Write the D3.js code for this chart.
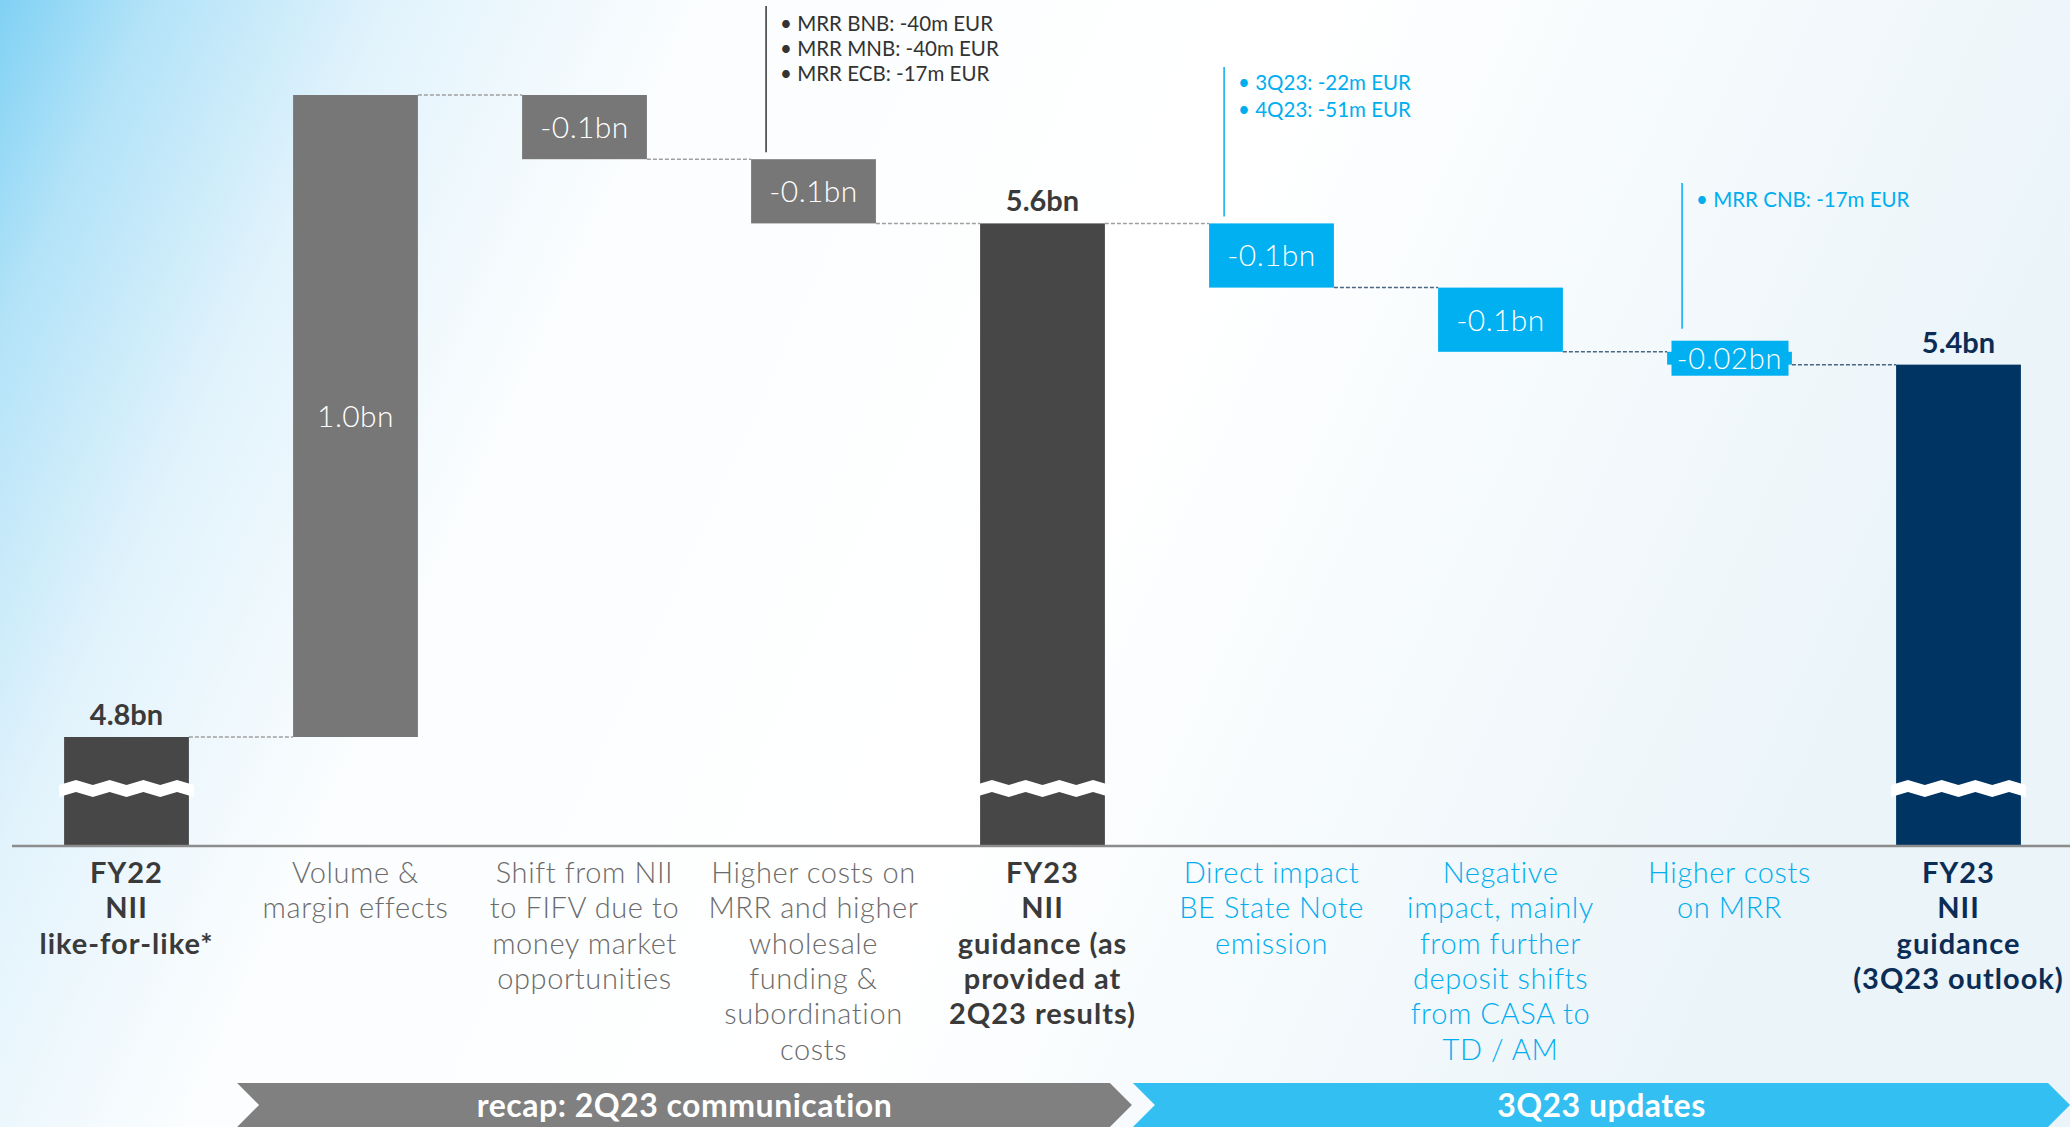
<!DOCTYPE html>
<html>
<head>
<meta charset="utf-8">
<script src="https://cdnjs.cloudflare.com/ajax/libs/d3/7.8.5/d3.min.js"></script>
<style>
  html, body { margin: 0; padding: 0; overflow: hidden; }
  svg { display: block; font-family: Lato, "Open Sans", sans-serif; }
</style>
</head>
<body>
<div id="chart"></div>
<script>

// ---- data ----
var categories = ["fy22", "volume", "shift", "mrr_wholesale", "fy23", "state_note", "deposit_shift", "mrr_cnb", "fy23_outlook"];
var kinds = ["total", "delta", "delta", "delta", "total", "delta", "delta", "delta", "total"];
var values = [4.8, 1.0, -0.1, -0.1, 5.6, -0.1, -0.1, -0.02, 5.38];
var valueLabels = ["4.8bn", "1.0bn", "-0.1bn", "-0.1bn", "5.6bn", "-0.1bn", "-0.1bn", "-0.02bn", "5.4bn"];
var categoryLines = [
  ["FY22", "NII", "like-for-like*"],
  ["Volume &", "margin effects"],
  ["Shift from NII", "to FIFV due to", "money market", "opportunities"],
  ["Higher costs on", "MRR and higher", "wholesale", "funding &", "subordination", "costs"],
  ["FY23", "NII", "guidance (as", "provided at", "2Q23 results)"],
  ["Direct impact", "BE State Note", "emission"],
  ["Negative", "impact, mainly", "from further", "deposit shifts", "from CASA to", "TD / AM"],
  ["Higher costs", "on MRR"],
  ["FY23", "NII", "guidance", "(3Q23 outlook)"]
];
var groups = ["base", "recap", "recap", "recap", "recap", "update", "update", "update", "update"];
var notes = [
  { cat: "mrr_wholesale", lines: ["MRR BNB: -40m EUR", "MRR MNB: -40m EUR", "MRR ECB: -17m EUR"] },
  { cat: "state_note", lines: ["3Q23: -22m EUR", "4Q23: -51m EUR"] },
  { cat: "mrr_cnb", lines: ["MRR CNB: -17m EUR"] }
];
var bannerLabels = ["recap: 2Q23 communication", "3Q23 updates"];

// ---- layout ----
var W = 2070, H = 1127;
var baseY = 845;

var svg = d3.select("#chart").append("svg")
  .attr("width", W)
  .attr("height", H);

var defs = svg.append("defs");
var bg = defs.append("linearGradient").attr("id", "bg")
  .attr("x1", 0).attr("y1", 0).attr("x2", 1).attr("y2", 0.25);
bg.append("stop").attr("offset", "0%").attr("stop-color", "#80d1f4");
bg.append("stop").attr("offset", "7%").attr("stop-color", "#b3e3f8");
bg.append("stop").attr("offset", "18%").attr("stop-color", "#e2f3fc");
bg.append("stop").attr("offset", "32%").attr("stop-color", "#fbfdfe");
bg.append("stop").attr("offset", "60%").attr("stop-color", "#ffffff");
bg.append("stop").attr("offset", "100%").attr("stop-color", "#eaf4f9");
svg.append("rect").attr("width", W).attr("height", H).attr("fill", "url(#bg)");

var x = d3.scaleBand()
  .domain(categories)
  .range([12, 2073])
  .paddingInner(0.455)
  .paddingOuter(0.2275);

var y = d3.scaleLinear()
  .domain([4.8, 5.8])
  .range([737, 95]);

// running totals for the waterfall
var rows = [];
var run = 0;
categories.forEach(function(c, i) {
  var start, end;
  if (kinds[i] === "total") { start = null; end = values[i]; }
  else { start = run; end = run + values[i]; }
  run = end;
  rows.push({ cat: c, kind: kinds[i], group: groups[i], start: start, end: end, label: valueLabels[i], i: i });
});

function barColor(d) {
  if (d.kind === "total") return d.group === "update" ? "#003462" : "#474747";
  return d.group === "update" ? "#00b0f0" : "#777777";
}
function textColor(d) {
  if (d.kind === "total") return d.group === "update" ? "#0b2d55" : "#3a3a3a";
  return d.group === "update" ? "#00aeef" : "#6b6b6b";
}

// connectors
var conn = svg.append("g");
rows.slice(0, -1).forEach(function(d, i) {
  var next = rows[i + 1];
  conn.append("line")
    .attr("x1", x(d.cat) + x.bandwidth())
    .attr("x2", x(next.cat))
    .attr("y1", y(d.end))
    .attr("y2", y(d.end))
    .attr("stroke", i >= 5 ? "#4b6680" : "#a0a0a0")
    .attr("stroke-width", 1.5)
    .attr("stroke-dasharray", "4,2");
});

// bars
svg.append("g").selectAll("rect")
  .data(rows)
  .join("rect")
  .attr("x", function(d) { return x(d.cat); })
  .attr("width", x.bandwidth())
  .attr("y", function(d) { return d.kind === "total" ? y(d.end) : y(Math.max(d.start, d.end)); })
  .attr("height", function(d) {
    if (d.kind === "total") return baseY - y(d.end);
    return Math.abs(y(d.start) - y(d.end));
  })
  .attr("fill", barColor);

// axis break marks on the total bars
var breakY = 791;
rows.filter(function(d) { return d.kind === "total"; }).forEach(function(d) {
  var x0 = x(d.cat) - 5, x1 = x(d.cat) + x.bandwidth() + 5;
  var n = 8, amp = 5, top = [], bot = [];
  for (var k = 0; k <= n; k++) {
    var px = x0 + (x1 - x0) * k / n;
    var off = (k === 0 || k === n) ? 0 : (k % 2 ? -amp : 0);
    top.push([px, breakY - 6 + off]);
    bot.push([px, breakY + 6 + off]);
  }
  var pts = top.concat(bot.reverse());
  svg.append("path")
    .attr("d", d3.line()(pts) + "Z")
    .attr("fill", "#ffffff");
});

// axis line
svg.append("line")
  .attr("x1", 12).attr("x2", W)
  .attr("y1", baseY + 1).attr("y2", baseY + 1)
  .attr("stroke", "#8c8c8c")
  .attr("stroke-width", 2.5);

// value labels
var vl = svg.append("g");
rows.forEach(function(d) {
  var cx = x(d.cat) + x.bandwidth() / 2;
  if (d.kind === "total") {
    vl.append("text")
      .attr("x", cx).attr("y", y(d.end) - 12)
      .attr("text-anchor", "middle")
      .attr("font-size", 29).attr("font-weight", 700)
      .attr("fill", d.group === "update" ? "#0b2d55" : "#3a3a3a")
      .text(d.label);
  } else {
    var cy = (y(d.start) + y(d.end)) / 2;
    var small = Math.abs(y(d.start) - y(d.end)) < 30;
    if (small) {
      vl.append("rect")
        .attr("x", cx - 58).attr("y", cy - 17.5)
        .attr("width", 117).attr("height", 35)
        .attr("fill", "#00b0f0");
    }
    vl.append("text")
      .attr("x", cx).attr("y", cy)
      .attr("dy", "0.36em")
      .attr("text-anchor", "middle")
      .attr("font-size", small ? 29 : 30).attr("font-weight", 300)
      .attr("letter-spacing", small ? 0.8 : 0.4)
      .attr("fill", "#ffffff")
      .text(d.label);
  }
});

// category labels
var cl = svg.append("g");
rows.forEach(function(d, i) {
  var t = cl.append("text")
    .attr("x", x(d.cat) + x.bandwidth() / 2)
    .attr("y", 883)
    .attr("text-anchor", "middle")
    .attr("font-size", 29)
    .attr("letter-spacing", d.kind === "total" ? 1 : 0.6)
    .attr("font-weight", d.kind === "total" ? 700 : 300)
    .attr("fill", textColor(d));
  categoryLines[i].forEach(function(line, k) {
    t.append("tspan")
      .attr("x", x(d.cat) + x.bandwidth() / 2)
      .attr("y", 883 + k * 35.3)
      .text(line);
  });
});

// annotations with leader line
var noteTop = [6, 67, 183];
var noteText = [24, 83, 200];
var noteGap = [25, 27, 25];
notes.forEach(function(n, j) {
  var row = rows[categories.indexOf(n.cat)];
  var lx = x(n.cat) + 15;
  var bottom = y(row.start) - (j === 2 ? 23 : 7);
  var col = j === 0 ? "#333333" : "#00aeef";
  svg.append("line")
    .attr("x1", lx).attr("x2", lx)
    .attr("y1", noteTop[j]).attr("y2", bottom)
    .attr("stroke", col).attr("stroke-width", 1.5);
  n.lines.forEach(function(line, k) {
    svg.append("text")
      .attr("x", lx + 14).attr("y", noteText[j] + k * noteGap[j])
      .attr("dy", "0.35em")
      .attr("font-size", 20.5).attr("font-weight", 400)
      .attr("fill", col)
      .text("\u2022 " + line);
  });
});

// bottom banners (chevrons)
var bTop = 1083, bBot = 1127, bMid = 1105, tip = 22;
var grayEnd = x("fy23") + x.bandwidth() + 27;
var bannerSpans = [[x("volume") - 56, grayEnd], [grayEnd + 1, W]];
var bannerColors = ["#808080", "#33bff1"];
bannerSpans.forEach(function(s, j) {
  var a = s[0], b = s[1];
  var pts = [[a, bTop], [b - tip, bTop], [b, bMid], [b - tip, bBot], [a, bBot], [a + tip, bMid]];
  svg.append("path")
    .attr("d", d3.line()(pts) + "Z")
    .attr("fill", bannerColors[j]);
  svg.append("text")
    .attr("x", (a + b) / 2).attr("y", bMid)
    .attr("dy", "0.36em")
    .attr("text-anchor", "middle")
    .attr("font-size", 32).attr("font-weight", 700)
    .attr("letter-spacing", 0.5)
    .attr("fill", "#ffffff")
    .text(bannerLabels[j]);
});

</script>
</body>
</html>
